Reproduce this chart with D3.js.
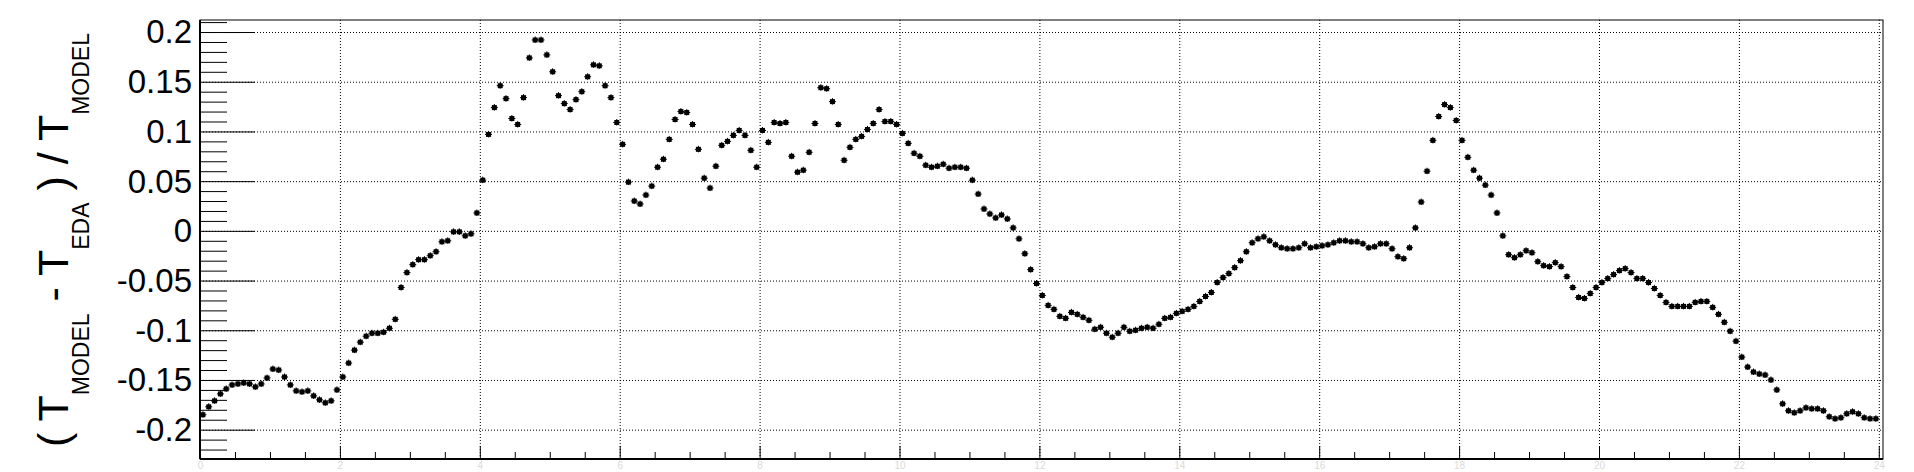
<!DOCTYPE html>
<html>
<head>
<meta charset="utf-8">
<title>(T_MODEL - T_EDA) / T_MODEL</title>
<script src="https://cdn.jsdelivr.net/npm/d3@7"></script>
<style>
    body { margin: 0; background: #fff; }
    svg { font-family: 'Liberation Sans', Arial, sans-serif; }
    .grid line { stroke: #000; stroke-width: 1; stroke-dasharray: 1,2; }
    .grid path, .ticks path { display: none; }
    .ticks line { stroke: #000; stroke-width: 1; }
</style>
</head>
<body>
<div id="chart"></div>
<script>
    // relative difference, one value per 5 minute bin over the day
    const values = [
        -0.185, -0.177, -0.171, -0.164, -0.159, -0.155, -0.154, -0.153, -0.154, -0.157,
        -0.154, -0.148, -0.139, -0.140, -0.147, -0.155, -0.161, -0.162, -0.161, -0.166,
        -0.170, -0.173, -0.171, -0.160, -0.147, -0.133, -0.120, -0.112, -0.106, -0.103,
        -0.103, -0.102, -0.098, -0.089, -0.057, -0.042, -0.034, -0.029, -0.029, -0.025,
        -0.021, -0.011, -0.010, -0.001, -0.001, -0.005, -0.003, 0.018, 0.051, 0.097,
        0.124, 0.146, 0.133, 0.113, 0.107, 0.134, 0.174, 0.192, 0.192,
        0.177, 0.160, 0.136, 0.128, 0.122, 0.132, 0.140, 0.155, 0.167, 0.166,
        0.146, 0.134, 0.109, 0.087, 0.049, 0.030, 0.027, 0.036, 0.045, 0.064,
        0.072, 0.092, 0.112, 0.120, 0.119, 0.107, 0.082, 0.053, 0.043, 0.065,
        0.086, 0.090, 0.096, 0.101, 0.096, 0.081, 0.064, 0.101, 0.089, 0.109,
        0.108, 0.109, 0.075, 0.059, 0.061, 0.079, 0.108, 0.144, 0.143, 0.130,
        0.107, 0.071, 0.084, 0.092, 0.095, 0.102, 0.108,
        0.122, 0.110, 0.110, 0.107, 0.098, 0.088, 0.078, 0.075, 0.066, 0.064,
        0.065, 0.067, 0.063, 0.064, 0.064, 0.063, 0.051, 0.037, 0.022, 0.017,
        0.013, 0.016, 0.012, 0.003, -0.008, -0.023, -0.039, -0.053, -0.065, -0.075,
        -0.079, -0.086, -0.088, -0.082, -0.084, -0.087, -0.090, -0.099, -0.097, -0.103,
        -0.107, -0.103, -0.097, -0.101, -0.100, -0.098, -0.097, -0.098, -0.094, -0.088,
        -0.087, -0.083, -0.081, -0.079, -0.076, -0.071, -0.066,
        -0.062, -0.052, -0.047, -0.043, -0.037, -0.030, -0.021, -0.012, -0.008, -0.006,
        -0.010, -0.014, -0.017, -0.018, -0.018, -0.017, -0.013, -0.017, -0.016, -0.015,
        -0.014, -0.012, -0.010, -0.010, -0.011, -0.011, -0.013, -0.017, -0.016, -0.013,
        -0.013, -0.018, -0.026, -0.028, -0.017, 0.003, 0.029, 0.060, 0.091, 0.115,
        0.127, 0.124, 0.111, 0.091, 0.074, 0.061, 0.053, 0.046, 0.036, 0.018,
        -0.005, -0.024, -0.027, -0.024, -0.020, -0.022, -0.031,
        -0.035, -0.036, -0.032, -0.036, -0.046, -0.057, -0.067, -0.068, -0.063, -0.057,
        -0.052, -0.048, -0.044, -0.040, -0.038, -0.042, -0.048, -0.048, -0.052, -0.058,
        -0.065, -0.072, -0.076, -0.076, -0.076, -0.076, -0.072, -0.071, -0.071, -0.077,
        -0.084, -0.092, -0.101, -0.111, -0.127, -0.137, -0.142, -0.144, -0.145, -0.150,
        -0.160, -0.174, -0.181, -0.183, -0.181, -0.178, -0.179, -0.179, -0.181, -0.187,
        -0.189, -0.188, -0.184, -0.182, -0.184, -0.188, -0.189, -0.189
    ];
    const binMinutes = 5;

    const xTicks = [0, 2, 4, 6, 8, 10, 12, 14, 16, 18, 20, 22, 24];
    const xTickLabels = ["0", "2", "4", "6", "8", "10", "12", "14", "16", "18", "20", "22", "24"];
    const yTicks = [-0.2, -0.15, -0.1, -0.05, 0, 0.05, 0.1, 0.15, 0.2];
    const yTickLabels = ["-0.2", "-0.15", "-0.1", "-0.05", "0", "0.05", "0.1", "0.15", "0.2"];

    const [width, height] = [1914, 472];
    const frame = {left: 200, right: 1883, top: 20, bottom: 459};

    const svg = d3.select("#chart")
        .append("svg")
        .attr("width", width)
        .attr("height", height);

    svg.append("rect")
        .attr("width", width)
        .attr("height", height)
        .attr("fill", "#fff");

    const x = d3.scaleLinear()
        .domain([0, 24.06])
        .range([frame.left, frame.right]);

    const y = d3.scaleLinear()
        .domain([-0.2295, 0.2121])
        .range([frame.bottom, frame.top]);

    const points = values.map((v, i) => ({t: (i + 0.5) * binMinutes / 60, v: v}));

    // dotted grid
    svg.append("g")
        .attr("class", "grid")
        .attr("transform", `translate(0, ${frame.bottom})`)
        .call(d3.axisBottom(x).tickValues(xTicks).tickSize(-(frame.bottom - frame.top)).tickFormat(""));

    svg.append("g")
        .attr("class", "grid")
        .attr("transform", `translate(${frame.left}, 0)`)
        .call(d3.axisLeft(y).tickValues(yTicks).tickSize(-(frame.right - frame.left)).tickFormat(""));

    // x ticks
    const xMinor = d3.range(0, 24.01, 0.5).filter(d => d % 2 !== 0);
    svg.append("g")
        .attr("class", "ticks")
        .attr("transform", `translate(0, ${frame.bottom})`)
        .call(d3.axisBottom(x).tickValues(xMinor).tickSizeInner(-7).tickSizeOuter(0).tickFormat(""));

    const xAxis = svg.append("g")
        .attr("class", "ticks")
        .attr("transform", `translate(0, ${frame.bottom})`)
        .call(d3.axisBottom(x).tickValues(xTicks).tickSizeInner(-13).tickSizeOuter(0)
            .tickPadding(0).tickFormat((d, i) => xTickLabels[i]));

    xAxis.selectAll("text")
        .attr("y", 10)
        .attr("dy", 0)
        .attr("fill", "#dadada")
        .style("font-size", "10px");

    // y ticks
    const yMinor = d3.range(-22, 22).map(d => d / 100).filter(d => Math.abs(Math.round(d * 100)) % 5 !== 0);
    svg.append("g")
        .attr("class", "ticks")
        .attr("transform", `translate(${frame.left}, 0)`)
        .call(d3.axisLeft(y).tickValues(yMinor).tickSizeInner(-27).tickSizeOuter(0).tickFormat(""));

    const yAxis = svg.append("g")
        .attr("class", "ticks")
        .attr("transform", `translate(${frame.left}, 0)`)
        .call(d3.axisLeft(y).tickValues(yTicks).tickSizeInner(-55).tickSizeOuter(0)
            .tickPadding(8).tickFormat((d, i) => yTickLabels[i]));

    yAxis.selectAll("text")
        .attr("dy", "0.33em")
        .attr("fill", "#000")
        .style("font-size", "33px");

    // frame
    svg.append("rect")
        .attr("x", frame.left)
        .attr("y", frame.top)
        .attr("width", frame.right - frame.left)
        .attr("height", frame.bottom - frame.top)
        .attr("fill", "none")
        .attr("stroke", "#000")
        .attr("stroke-width", 1);

    svg.append("line")
        .attr("x1", frame.left).attr("x2", frame.left)
        .attr("y1", frame.top).attr("y2", frame.bottom)
        .attr("stroke", "#000").attr("stroke-width", 2);

    svg.append("line")
        .attr("x1", frame.left).attr("x2", frame.right)
        .attr("y1", frame.bottom).attr("y2", frame.bottom)
        .attr("stroke", "#000").attr("stroke-width", 2);

    // y title
    const title = svg.append("text")
        .attr("transform", `translate(68, 447) rotate(-90)`)
        .attr("fill", "#000")
        .style("font-size", "43px");

    const titleParts = [
        {text: "( T", sub: false}, {text: "MODEL", sub: true},
        {text: " - T", sub: false}, {text: "EDA", sub: true},
        {text: " ) / T", sub: false}, {text: "MODEL", sub: true}
    ];
    let shifted = false;
    titleParts.forEach(p => {
        const ts = title.append("tspan").text(p.text);
        if (p.sub && !shifted) { ts.attr("dy", 21); shifted = true; }
        if (!p.sub && shifted) { ts.attr("dy", -21); shifted = false; }
        if (p.sub) ts.style("font-size", "23px");
    });

    // markers: full square with short error bars
    const marks = svg.append("g").selectAll("g")
        .data(points)
        .enter().append("g")
        .attr("transform", d => `translate(${x(d.t)}, ${y(d.v)})`);

    marks.append("line")
        .attr("x1", -3.5).attr("x2", 3.5)
        .attr("stroke", "#000").attr("stroke-width", 1);

    marks.append("line")
        .attr("y1", -3.5).attr("y2", 3)
        .attr("stroke", "#000").attr("stroke-width", 1);

    marks.append("rect")
        .attr("x", -2.5).attr("y", -2.5)
        .attr("width", 5).attr("height", 5)
        .attr("fill", "#000");
</script>
</body>
</html>
